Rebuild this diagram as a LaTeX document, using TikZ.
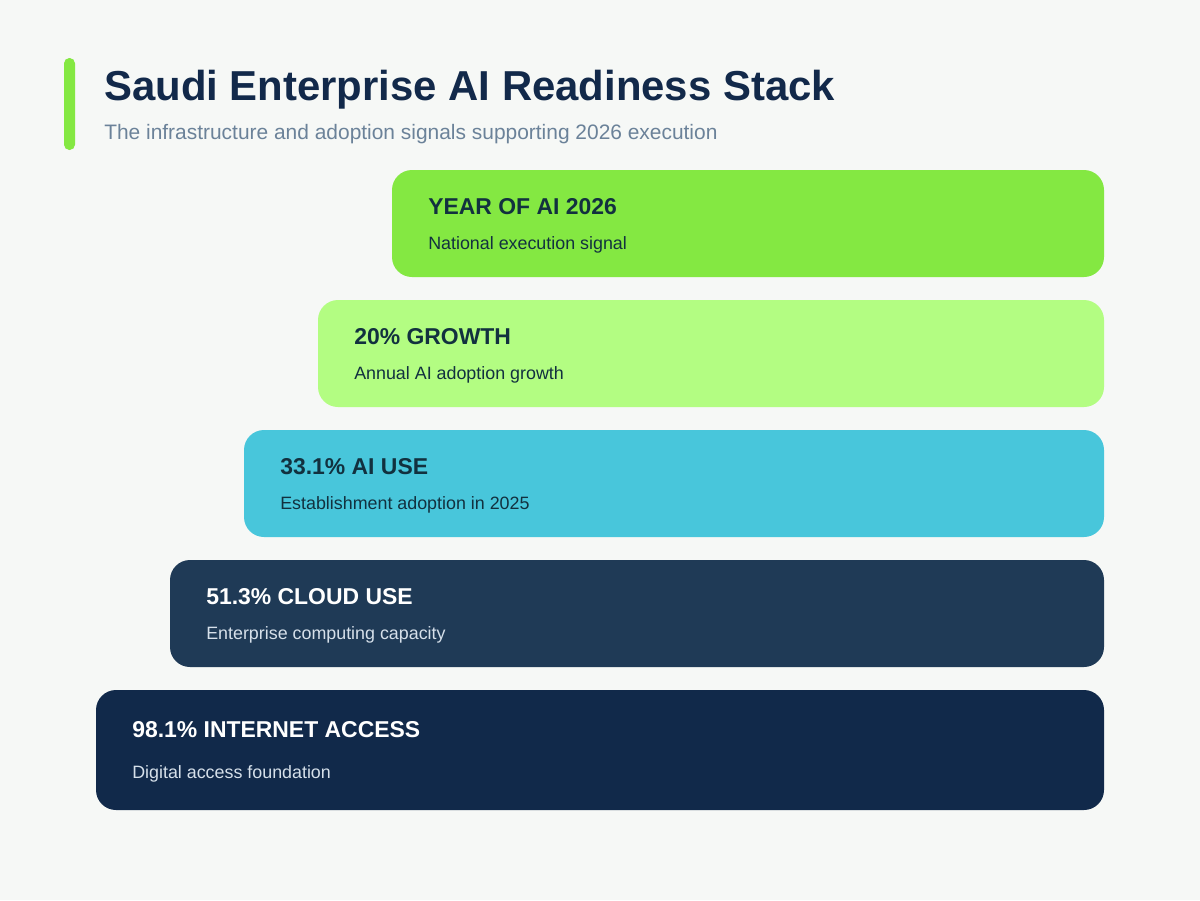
\documentclass[tikz,border=0pt]{standalone}
\usepackage{fontspec}
\setmainfont{Liberation Sans}
\definecolor{bg}{HTML}{F6F8F6}
\definecolor{navy}{HTML}{12294A}
\definecolor{accent}{HTML}{84E842}
\definecolor{subgray}{HTML}{6B8299}
\definecolor{c1}{HTML}{84E842}
\definecolor{c2}{HTML}{B3FD82}
\definecolor{c3}{HTML}{48C6DB}
\definecolor{c4}{HTML}{1F3A56}
\definecolor{c5}{HTML}{11294A}
\definecolor{darktxt}{HTML}{12313F}
\definecolor{lighttxt}{HTML}{D6E0EA}
\begin{document}
\begin{tikzpicture}[x=0.75pt,y=-0.75pt,
  layer/.style={rounded corners=15pt,draw=none},
  head/.style={anchor=base west,inner sep=0pt,font=\bfseries\fontsize{17.2pt}{20pt}\selectfont},
  sub/.style={anchor=base west,inner sep=0pt,font=\fontsize{13.4pt}{16pt}\selectfont}]
\fill[bg] (0,0) rectangle (1200,900);
\useasboundingbox (0,0) rectangle (1200,900);
% accent bar
\fill[accent,rounded corners=4pt] (64,58) rectangle (75,150);
\node[anchor=base west,inner sep=0pt,text=navy,font=\bfseries\fontsize{31.4pt}{36pt}\selectfont] (title) at (104,100) {Saudi Enterprise AI Readiness Stack};
\node[anchor=base west,inner sep=0pt,text=subgray,font=\fontsize{15.7pt}{18pt}\selectfont] (subtitle) at (104,139) {The infrastructure and adoption signals supporting 2026 execution};
% layers
\fill[c1,layer] (392,170) rectangle (1104,277);
\node[head,text=darktxt] (h1) at (428,214) {YEAR OF AI 2026};
\node[sub,text=darktxt] (s1) at (428,249) {National execution signal};
\fill[c2,layer] (318,300) rectangle (1104,407);
\node[head,text=darktxt] (h2) at (354,344) {20\% GROWTH};
\node[sub,text=darktxt] (s2) at (354,379) {Annual AI adoption growth};
\fill[c3,layer] (244,430) rectangle (1104,537);
\node[head,text=darktxt] (h3) at (280,474) {33.1\% AI USE};
\node[sub,text=darktxt] (s3) at (280,509) {Establishment adoption in 2025};
\fill[c4,layer] (170,560) rectangle (1104,667);
\node[head,text=white] (h4) at (206,604) {51.3\% CLOUD USE};
\node[sub,text=lighttxt] (s4) at (206,639) {Enterprise computing capacity};
\fill[c5,layer] (96,690) rectangle (1104,810);
\node[head,text=white] (h5) at (132,737) {98.1\% INTERNET ACCESS};
\node[sub,text=lighttxt] (s5) at (132,778) {Digital access foundation};
\end{tikzpicture}
\end{document}
